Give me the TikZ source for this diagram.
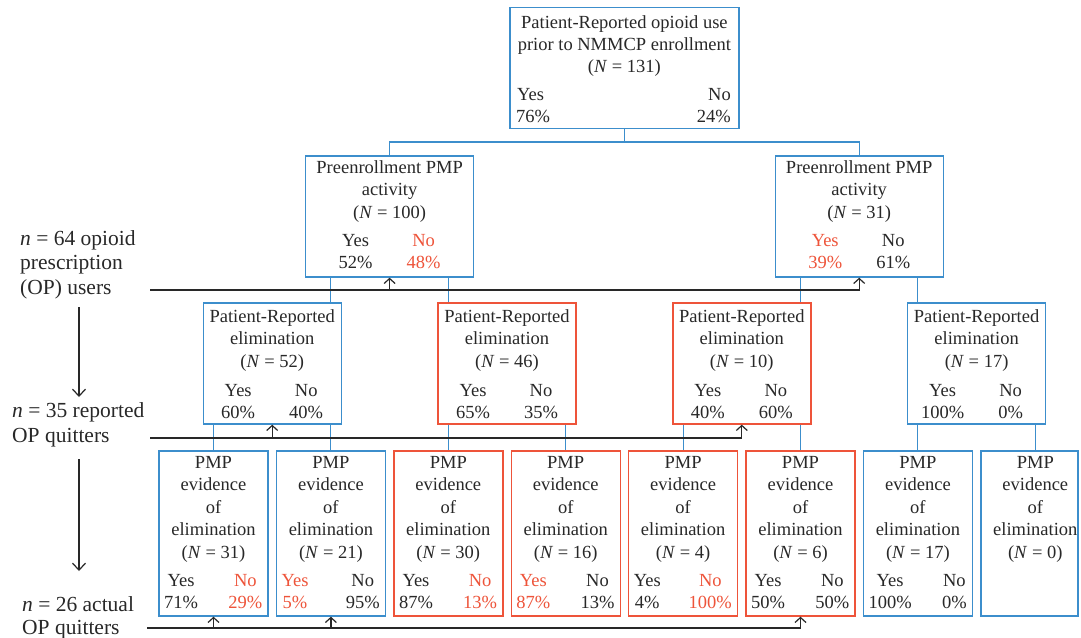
\documentclass[tikz,border=0pt]{standalone}
\usepackage{fontspec}
\setmainfont{Liberation Serif}
\usetikzlibrary{arrows.meta}
\definecolor{bl}{RGB}{60,142,204}
\definecolor{rd}{RGB}{238,84,58}
\definecolor{tx}{RGB}{40,40,40}
\tikzset{
  boxb/.style={draw=bl, line width=1.4pt, inner sep=0pt},
  boxr/.style={draw=rd, line width=1.4pt, inner sep=0pt},
  txt/.style={anchor=base, inner sep=0pt, text=tx, font=\fontsize{18.5}{22.5}\selectfont},
  lbl/.style={anchor=base west, inner sep=0pt, text=tx, font=\fontsize{21.5}{24.5}\selectfont},
  conn/.style={draw=bl, line width=1.1pt},
  flow/.style={draw=tx, line width=1.2pt},
  upar/.style={flow, -{Straight Barb[length=5pt,width=11pt]}},
  downar/.style={flow, -{Straight Barb[length=7pt,width=13pt]}},
}
\newcommand{\elimbox}[6]{%
  \node[#3, minimum width=138pt, minimum height=121pt] (#1) at (#2,363.5) {};
  \node[txt] at (#2,322) {Patient-Reported};
  \node[txt] at (#2,344) {elimination};
  \node[txt] at (#2,367) {(\textit{N} = #4)};
  \node[txt] at ({#2-34},396) {Yes};
  \node[txt] at ({#2+34},396) {No};
  \node[txt] at ({#2-34},418) {#5};
  \node[txt] at ({#2+34},418) {#6};
}
\newcommand{\pmpbox}[8]{%
  \node[#3, minimum width=109pt, minimum height=165pt] (#1) at (#2,533.5) {};
  \node[txt] at (#2,468) {PMP};
  \node[txt] at (#2,490.5) {evidence};
  \node[txt] at (#2,513) {of};
  \node[txt] at (#2,535.5) {elimination};
  \node[txt] at (#2,558) {(\textit{N} = #4)};
  \node[txt,anchor=base west,text=#5] at ({#2-49.5},586) {\begin{tabular}[t]{@{}c@{}}Yes\\#6\end{tabular}};
  \node[txt,anchor=base east,text=#7] at ({#2+49},586) {\begin{tabular}[t]{@{}c@{}}No\\#8\end{tabular}};
}
\begin{document}
\begin{tikzpicture}[x=1pt,y=-1pt]
\path[use as bounding box, fill=white] (0,0) rectangle (1081,637);

% top box
\node[boxb, minimum width=229pt, minimum height=121pt] (top) at (624.4,68) {};
\node[txt] at (624.4,28) {Patient-Reported opioid use};
\node[txt] at (624.4,50) {prior to NMMCP enrollment};
\node[txt] at (624.4,72) {(\textit{N} = 131)};
\node[txt,anchor=base west] at (517,100) {Yes};
\node[txt,anchor=base west] at (516,122) {76\%};
\node[txt,anchor=base east] at (731,100) {No};
\node[txt,anchor=base east] at (731,122) {24\%};

% row 2
\node[boxb, minimum width=168pt, minimum height=121pt] (a) at (389.6,216.5) {};
\node[txt] at (389.6,173) {Preenrollment PMP};
\node[txt] at (389.6,195) {activity};
\node[txt] at (389.6,218) {(\textit{N} = 100)};
\node[txt] at (355.6,246) {Yes};
\node[txt] at (355.6,268) {52\%};
\node[txt,text=rd] at (423.6,246) {No};
\node[txt,text=rd] at (423.6,268) {48\%};

\node[boxb, minimum width=168pt, minimum height=121pt] (b) at (859.2,216.5) {};
\node[txt] at (859.2,173) {Preenrollment PMP};
\node[txt] at (859.2,195) {activity};
\node[txt] at (859.2,218) {(\textit{N} = 31)};
\node[txt,text=rd] at (825.2,246) {Yes};
\node[txt,text=rd] at (825.2,268) {39\%};
\node[txt] at (893.2,246) {No};
\node[txt] at (893.2,268) {61\%};

% row 3
\elimbox{c}{272.2}{boxb}{52}{60\%}{40\%}
\elimbox{d}{507}{boxr}{46}{65\%}{35\%}
\elimbox{f}{741.8}{boxr}{10}{40\%}{60\%}
\elimbox{g}{976.6}{boxb}{17}{100\%}{0\%}

% row 4
\pmpbox{p1}{213.5}{boxb}{31}{tx}{71\%}{rd}{29\%}
\pmpbox{p2}{330.9}{boxb}{21}{rd}{5\%}{tx}{95\%}
\pmpbox{p3}{448.3}{boxr}{30}{tx}{87\%}{rd}{13\%}
\pmpbox{p4}{565.7}{boxr}{16}{rd}{87\%}{tx}{13\%}
\pmpbox{p5}{683.1}{boxr}{4}{tx}{4\%}{rd}{100\%}
\pmpbox{p6}{800.5}{boxr}{6}{tx}{50\%}{tx}{50\%}
\pmpbox{p7}{917.9}{boxb}{17}{tx}{100\%}{tx}{0\%}
\node[boxb, minimum width=97pt, minimum height=165pt] (p8) at (1029.5,533.5) {};
\node[txt] at (1035.3,468) {PMP};
\node[txt] at (1035.3,490.5) {evidence};
\node[txt] at (1035.3,513) {of};
\node[txt] at (1035.3,535.5) {elimination};
\node[txt] at (1035.3,558) {(\textit{N} = 0)};
\coordinate (p8c) at (1035.3,451);

% blue tree connectors
\coordinate (j0) at (624.4,142);
\draw[conn] (top.south) -- (j0);
\draw[conn] (a.north) |- (j0) -| (b.north);
\draw[conn] (a.south -| p2.north) -- (c.north -| p2.north);
\draw[conn] (a.south -| p3.north) -- (d.north -| p3.north);
\draw[conn] (b.south -| p6.north) -- (f.north -| p6.north);
\draw[conn] (b.south -| p7.north) -- (g.north -| p7.north);
\draw[conn] (c.south -| p1.north) -- (p1.north);
\draw[conn] (c.south -| p2.north) -- (p2.north);
\draw[conn] (d.south -| p3.north) -- (p3.north);
\draw[conn] (d.south -| p4.north) -- (p4.north);
\draw[conn] (f.south -| p5.north) -- (p5.north);
\draw[conn] (f.south -| p6.north) -- (p6.north);
\draw[conn] (g.south -| p7.north) -- (p7.north);
\draw[conn] (g.south -| p8c) -- (p8c);

% left labels
\node[lbl] (l1a) at (20,245) {\textit{n} = 64 opioid};
\node[lbl] (l1b) at (20,269) {prescription};
\node[lbl] (l1c) at (20,294) {(OP) users};
\node[lbl] (l2a) at (12,417) {\textit{n} = 35 reported};
\node[lbl] (l2b) at (12,442) {OP quitters};
\node[lbl] (l3a) at (22,611) {\textit{n} = 26 actual};
\node[lbl] (l3b) at (22,634) {OP quitters};
\coordinate (d1s) at (79,307);
\coordinate (d1e) at (79,397);
\coordinate (d2s) at (79,459);
\coordinate (d2e) at (79,571);
\draw[downar] (d1s) -- (d1e);
\draw[downar] (d2s) -- (d2e);

% flow lines
\coordinate (h1s) at (150,290);
\coordinate (h2s) at (150,438);
\coordinate (h3s) at (147,628);
\draw[upar] (h1s) -| (b.south);
\draw[upar] (a.south |- h1s) -- (a.south);
\draw[upar] (h2s) -| (f.south);
\draw[upar] (c.south |- h2s) -- (c.south);
\draw[upar] (h3s) -| (p6.south);
\draw[upar] (p1.south |- h3s) -- (p1.south);
\draw[upar] (p2.south |- h3s) -- (p2.south);
\end{tikzpicture}
\end{document}
